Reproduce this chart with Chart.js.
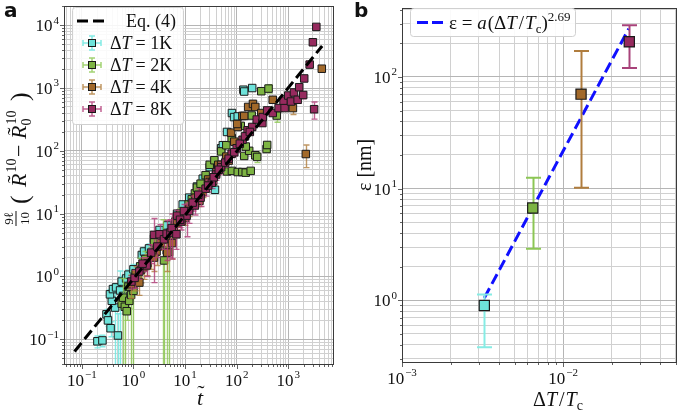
<!DOCTYPE html>
<html>
<head>
<meta charset="utf-8">
<script src="https://cdn.jsdelivr.net/npm/chart.js@4.4.1/dist/chart.umd.min.js"></script>
<style>
  body { margin: 0; background: #fff; width: 685px; height: 411px; position: relative; overflow: hidden; }
  #wrapA { position: absolute; left: 0; top: 0; width: 340px; height: 411px; }
  #wrapB { position: absolute; left: 340px; top: 0; width: 345px; height: 411px; }
</style>
</head>
<body>
<div id="wrapA"><canvas id="chartA"></canvas></div>
<div id="wrapB"><canvas id="chartB"></canvas></div>
<script>
const SERIF = '"Liberation Serif", "DejaVu Serif", serif';
const SANS = '"DejaVu Sans", "Liberation Sans", sans-serif';

// ---- panel a : rescaled radius vs rescaled time, one set per quench depth ----
const t1K = [0.20, 0.25, 0.30, 0.32, 0.36, 0.50, 0.44, 0.38, 0.35, 0.40, 0.46, 0.55, 0.63, 0.59, 0.72, 0.80, 1.0, 1.45, 1.6, 2.0, 2.5, 3.2, 4.5, 7.0, 9.0, 12, 17, 22, 30, 38, 50, 54, 65, 81, 89, 105, 135, 140, 200];
const r1K = [0.093, 0.096, 0.25, 0.20, 0.15, 0.115, 0.32, 0.41, 0.52, 0.63, 0.67, 0.60, 0.49, 0.83, 0.93, 1.07, 1.3, 2.2, 2.5, 2.8, 4.0, 5.5, 6.5, 10, 14, 18, 27, 36, 55, 24, 110, 123, 200, 400, 345, 353, 940, 880, 1000];
const e1K = [0.02, 0.02, 0.05, 0.04, 0.04, 0.14, 0.35, 0.08, 0.1, 0.1, 0.1, 0.62, 0.1, 0.15, 0.2, 0.2, 0.25, 0.3, 0.4, 0.5, 0.5, 0.6, 0.8, 1.2, 1.5, 2, 3, 4, 6, 3, 10, 10, 15, 30, 25, 30, 60, 50, 60];

const t2K = [0.59, 0.63, 0.68, 0.74, 0.83, 0.90, 1.0, 0.80, 1.2, 1.35, 1.7, 2.5, 2.7, 3.7, 3.9, 4.4, 4.9, 5.2, 6.5, 8, 11.7, 13.5, 15.5, 17, 20, 25, 30, 37, 50, 63, 80, 65, 81, 105, 129, 150, 187, 140, 175, 150, 230, 250, 380, 390, 195, 120, 300, 415, 600];
const r2K = [0.37, 0.46, 0.33, 0.28, 0.41, 0.51, 0.59, 0.69, 1.0, 1.45, 1.9, 3.5, 2.5, 3.9, 1.8, 2.6, 2.45, 4.5, 7.5, 10, 14, 17, 21, 26, 30, 41, 60, 71, 98, 123, 160, 47, 48, 46, 46, 45, 48, 83, 100, 117, 85, 80, 107, 124, 365, 250, 890, 980, 365];
const e2K = [0.06, 0.47, 0.34, 0.08, 0.1, 0.53, 0.61, 0.1, 0.3, 0.5, 0.6, 0.6, 0.4, 4.1, 1.9, 2.7, 2.6, 1, 1.5, 2, 2, 2, 3, 3, 4, 5, 6, 5, 8, 10, 12, 4, 4, 4, 4, 4, 4, 6, 8, 10, 8, 15, 12, 12, 30, 20, 60, 150, 80];

const t4K = [0.9, 1.07, 1.1, 1.3, 1.41, 1.86, 2.2, 2.8, 3.4, 4.2, 4.5, 5.6, 7, 9, 12, 16, 22, 28, 30, 40, 44, 50, 63, 78, 90, 105, 102, 129, 140, 167, 207, 230, 300, 500, 1230, 2190, 4470, 1.6, 2.5, 6, 10, 19, 35, 70];
const r4K = [0.75, 0.89, 1.13, 0.80, 1.29, 1.63, 2.1, 2.5, 3.4, 4.0, 2.4, 3.4, 7, 9, 12, 18, 22, 35, 32, 45, 60, 60, 81, 195, 140, 240, 268, 360, 360, 500, 560, 500, 400, 650, 480, 89, 2030, 1.4, 2.0, 5.5, 8.5, 16, 33, 70];
const e4K = [0.3, 0.3, 0.3, 0.3, 0.5, 0.6, 0.8, 1.0, 0.8, 1.0, 1.2, 1.5, 1.5, 2, 3, 3, 4, 5, 5, 6, 6, 6, 8, 15, 10, 20, 20, 25, 25, 30, 40, 40, 30, 50, 100, 35, 150, 0.5, 0.8, 1.5, 2, 3, 5, 8];

const t8K = [0.91, 1.05, 1.8, 2.5, 3.2, 3.9, 4.4, 5.2, 5.5, 6.8, 7, 8.5, 10.7, 12, 15.5, 20, 25, 33, 40, 50, 60, 80, 100, 130, 163, 200, 245, 315, 320, 390, 500, 650, 850, 810, 1000, 1130, 1290, 1520, 1630, 1950, 2040, 2600, 3000, 3500, 3170, 1.3, 1.5, 2.2, 2.9, 8, 9.5, 14, 18, 28, 36, 45, 70, 90, 115, 145, 180];
const r8K = [0.83, 0.95, 1.5, 4.6, 4.7, 3.9, 4.8, 5.0, 5.9, 4.7, 9.3, 7.5, 9.3, 11, 13.5, 18, 25, 31, 42, 55, 65, 90, 110, 150, 213, 240, 315, 277, 345, 440, 400, 480, 480, 630, 760, 610, 850, 650, 1030, 775, 1420, 2360, 5350, 9400, 460, 1.2, 1.6, 2.4, 3.0, 8, 11, 15, 20, 28, 38, 50, 75, 95, 130, 170, 200];
const e8K = [0.2, 0.3, 0.5, 3.8, 2.0, 1.2, 3, 3, 4, 2, 2, 2, 5, 4, 4, 5, 6, 6, 8, 10, 10, 12, 15, 18, 20, 25, 25, 30, 30, 35, 40, 40, 40, 50, 60, 60, 70, 80, 90, 100, 120, 200, 300, 400, 140, 0.3, 0.4, 0.8, 1.0, 2, 3, 4, 5, 6, 7, 8, 10, 12, 15, 18, 20];

// Eq. (4) reference line, two end points
const eqT = [0.072, 4540];
const eqR = [0.064, 4670];

// ---- panel b : fitted epsilon vs quench depth ----
const dTc = [0.00324, 0.00647, 0.0129, 0.0257];
const eps = [0.9, 6.7, 70, 206];
const epsLo = [0.38, 2.9, 10.2, 120];
const epsHi = [1.13, 12.5, 170, 290];
const fitX = [0.00324, 0.0255];
const fitY = [1.05, 270];

const series = [
  { name: '1K', t: t1K, r: r1K, e: e1K, fill: '#6ee3da', bar: 'rgba(110,232,225,0.85)' },
  { name: '2K', t: t2K, r: r2K, e: e2K, fill: '#7db443', bar: 'rgba(140,200,80,0.8)' },
  { name: '4K', t: t4K, r: r4K, e: e4K, fill: '#a2692a', bar: 'rgba(176,125,60,0.8)' },
  { name: '8K', t: t8K, r: r8K, e: e8K, fill: '#962a5e', bar: 'rgba(178,60,120,0.8)' }
];

function logTicks(min, max) {
  let ticks = [];
  for (let e = Math.floor(Math.log10(min)); e <= Math.ceil(Math.log10(max)); e++) {
    for (let m = 1; m <= 9; m++) {
      let v = m * Math.pow(10, e);
      if (v >= min * 0.9999 && v <= max * 1.0001) ticks.push({ value: v, major: m === 1 });
    }
  }
  return ticks;
}

function logAxis(min, max, size, isX) {
  return {
    type: 'logarithmic', min: min, max: max,
    afterBuildTicks: s => { s.ticks = logTicks(min, max); },
    afterFit: s => { if (isX) s.height = size; else s.width = size; },
    ticks: { display: false },
    grid: {
      color: c => (c.tick && c.tick.major) ? '#b5b5b5' : '#d0d0d0',
      lineWidth: 1, drawTicks: false
    },
    border: { display: false }
  };
}

// draws "10" with a raised exponent
function pow10(ctx, exp, x, y, align, base, sup) {
  const e = exp < 0 ? '\u2212' + (-exp) : String(exp);
  ctx.font = base + 'px ' + SERIF;
  const w1 = ctx.measureText('10').width;
  ctx.font = sup + 'px ' + SERIF;
  const w2 = ctx.measureText(e).width;
  const w = w1 + w2 + 1;
  const x0 = align === 'center' ? x - w / 2 : x - w;
  ctx.textAlign = 'left';
  ctx.font = base + 'px ' + SERIF;
  ctx.fillText('10', x0, y);
  ctx.font = sup + 'px ' + SERIF;
  ctx.fillText(e, x0 + w1 + 1, y - base * 0.45);
}

// runs of [text, font, dy, extra gap] drawn one after another
function runs(ctx, list, x, y) {
  let cx = x;
  list.forEach(r => {
    ctx.font = r[1];
    ctx.fillText(r[0], cx, y + (r[2] || 0));
    cx += ctx.measureText(r[0]).width + (r[3] || 0);
  });
  return cx - x;
}
function runsWidth(ctx, list) {
  let w = 0;
  list.forEach(r => { ctx.font = r[1]; w += ctx.measureText(r[0]).width + (r[3] || 0); });
  return w;
}

function drawFrame(chart, majorX, majorY, base, sup) {
  const { ctx, chartArea: a, scales } = chart;
  ctx.save();
  ctx.strokeStyle = '#3a3a3a';
  ctx.lineWidth = 0.8;
  ctx.beginPath();
  scales.x.ticks.forEach(t => {
    const p = Math.round(scales.x.getPixelForValue(t.value)) + 0.5;
    ctx.moveTo(p, a.bottom); ctx.lineTo(p, a.bottom + (t.major ? 4 : 2));
  });
  scales.y.ticks.forEach(t => {
    const p = Math.round(scales.y.getPixelForValue(t.value)) + 0.5;
    ctx.moveTo(a.left, p); ctx.lineTo(a.left - (t.major ? 4 : 2), p);
  });
  ctx.stroke();
  ctx.lineWidth = 1;
  ctx.strokeRect(Math.round(a.left) + 0.5, Math.round(a.top) + 0.5,
    Math.round(a.right - a.left) - 1, Math.round(a.bottom - a.top) - 1);
  ctx.fillStyle = '#111';
  majorX.forEach(e => pow10(ctx, e, scales.x.getPixelForValue(Math.pow(10, e)), a.bottom + 21, 'center', base, sup));
  majorY.forEach(e => pow10(ctx, e, a.left - 5, scales.y.getPixelForValue(Math.pow(10, e)) + 6, 'right', base, sup));
  ctx.restore();
}

const errorBars = {
  id: 'errorBars',
  beforeDatasetDraw(chart, args) {
    const ds = chart.data.datasets[args.index];
    if (!ds.lo) return;
    const { ctx, chartArea: a, scales: { x, y } } = chart;
    ctx.save();
    ctx.beginPath();
    ctx.rect(a.left, a.top, a.right - a.left, a.bottom - a.top);
    ctx.clip();
    ds.data.forEach((p, j) => {
      const px = Math.round(x.getPixelForValue(p.x)) + 0.5;
      const top = y.getPixelForValue(ds.hi[j]);
      const bot = ds.lo[j] > 0 ? y.getPixelForValue(ds.lo[j]) : a.bottom + 10;
      ctx.strokeStyle = Array.isArray(ds.barColor) ? ds.barColor[j] : ds.barColor;
      ctx.lineWidth = ds.barWidth;
      ctx.beginPath();
      ctx.moveTo(px, top); ctx.lineTo(px, bot);
      ctx.moveTo(px - ds.cap, top); ctx.lineTo(px + ds.cap, top);
      ctx.moveTo(px - ds.cap, bot); ctx.lineTo(px + ds.cap, bot);
      ctx.stroke();
    });
    ctx.restore();
  }
};

function tildeOver(ctx, x, w, y, size) {
  ctx.font = size + 'px ' + SERIF;
  ctx.textAlign = 'center';
  ctx.fillText('\u02DC', x + w / 2, y);
  ctx.textAlign = 'left';
}

// ---------------- panel a ----------------
const decorA = {
  id: 'decorA',
  afterDraw(chart) {
    const ctx = chart.ctx;
    drawFrame(chart, [-1, 0, 1, 2, 3], [-1, 0, 1, 2, 3, 4], 17, 11);
    ctx.save();
    ctx.fillStyle = '#111';
    ctx.textBaseline = 'alphabetic';

    // x title: t tilde
    ctx.font = 'italic 22px ' + SERIF;
    const tw = ctx.measureText('t').width;
    ctx.fillText('t', 200 - tw / 2, 405);
    tildeOver(ctx, 200 - tw / 2 + 1, tw, 400, 22);

    // y title, rotated
    ctx.save();
    ctx.translate(26, 0);
    ctx.rotate(-Math.PI / 2);
    const F = 13;
    ctx.font = F + 'px ' + SERIF;
    const nw = ctx.measureText('9\u2113').width, dw = ctx.measureText('10').width;
    const fw = Math.max(nw, dw) + 2, f0 = -226;
    ctx.fillText('9\u2113', f0 + (fw - nw) / 2, -13);
    ctx.fillText('10', f0 + (fw - dw) / 2, 3);
    ctx.fillRect(f0, -10.5, fw, 1);
    ctx.font = '26px ' + SERIF;
    ctx.fillText('(', -204, 2);
    ctx.font = 'italic 22px ' + SERIF;
    const rw = ctx.measureText('R').width;
    ctx.fillText('R', -187, 0);
    tildeOver(ctx, -186, rw, -4, 22);
    ctx.font = '14px ' + SERIF;
    ctx.fillText('10', -187 + rw + 1, -10);
    ctx.font = '22px ' + SERIF;
    ctx.fillText('\u2212', -157, 0);
    ctx.font = 'italic 22px ' + SERIF;
    ctx.fillText('R', -139, 0);
    tildeOver(ctx, -138, rw, -4, 22);
    ctx.font = '14px ' + SERIF;
    ctx.fillText('0', -139 + rw, 5);
    ctx.fillText('10', -139 + rw + 1, -10);
    ctx.font = '26px ' + SERIF;
    ctx.fillText(')', -101, 2);
    ctx.restore();

    // legend
    ctx.fillStyle = 'rgba(255,255,255,0.88)';
    ctx.strokeStyle = '#d0d0d0';
    ctx.lineWidth = 1;
    ctx.beginPath();
    ctx.roundRect(72.5, 7.5, 111, 117, 3);
    ctx.fill(); ctx.stroke();
    ctx.strokeStyle = '#000';
    ctx.lineWidth = 3;
    ctx.setLineDash([11, 5]);
    ctx.beginPath(); ctx.moveTo(77, 21); ctx.lineTo(106, 21); ctx.stroke();
    ctx.setLineDash([]);
    ctx.fillStyle = '#111';
    ctx.font = '18px ' + SERIF;
    ctx.fillText('Eq. (4)', 126, 27);
    series.forEach((s, i) => {
      const cy = 43 + i * 22;
      ctx.strokeStyle = s.bar; ctx.lineWidth = 1.5;
      ctx.beginPath();
      ctx.moveTo(83, cy); ctx.lineTo(101, cy);
      ctx.moveTo(83, cy - 3); ctx.lineTo(83, cy + 3);
      ctx.moveTo(101, cy - 3); ctx.lineTo(101, cy + 3);
      ctx.moveTo(92, cy - 7); ctx.lineTo(92, cy + 7);
      ctx.moveTo(89, cy - 7); ctx.lineTo(95, cy - 7);
      ctx.moveTo(89, cy + 7); ctx.lineTo(95, cy + 7);
      ctx.stroke();
      ctx.fillStyle = s.fill; ctx.strokeStyle = '#1a1a1a'; ctx.lineWidth = 1;
      ctx.fillRect(88.5, cy - 3.5, 7, 7); ctx.strokeRect(88.5, cy - 3.5, 7, 7);
      ctx.fillStyle = '#111';
      runs(ctx, [['\u0394', '18px ' + SERIF], ['T', 'italic 18px ' + SERIF, 0, 4], ['= ' + s.name, '18px ' + SERIF]], 110, cy + 6);
    });

    ctx.font = 'bold 20px ' + SANS;
    ctx.fillText('a', 4, 17);
    ctx.restore();
  }
};

const dsA = series.map((s, i) => ({
  label: '\u0394T = ' + s.name,
  data: s.t.map((t, j) => ({ x: t, y: s.r[j] })),
  lo: s.r.map((r, j) => r - s.e[j]),
  hi: s.r.map((r, j) => r + s.e[j]),
  barColor: s.bar, barWidth: 1.4, cap: 3,
  pointStyle: 'rect', pointRadius: 5.3,
  backgroundColor: s.fill, borderColor: '#1a1a1a', borderWidth: 1,
  order: 4 - i
}));
dsA.push({
  label: 'Eq. (4)',
  data: eqT.map((t, j) => ({ x: t, y: eqR[j] })),
  showLine: true, pointRadius: 0,
  borderColor: '#000', borderWidth: 3, borderDash: [11, 5],
  order: 0
});

new Chart(document.getElementById('chartA'), {
  type: 'scatter',
  data: { datasets: dsA },
  options: {
    responsive: true, maintainAspectRatio: false, animation: false, devicePixelRatio: 1,
    events: [],
    layout: { padding: { left: 0, right: 2, top: 1, bottom: 0 } },
    scales: {
      x: logAxis(0.045, 7600, 46, true),
      y: logAxis(0.039, 20000, 64, false)
    },
    plugins: { legend: { display: false }, tooltip: { enabled: false } }
  },
  plugins: [errorBars, decorA]
});

// ---------------- panel b ----------------
const colorsB = ['#6ee3da', '#7db443', '#a2692a', '#962a5e'];
const barsB = ['#86ece4', '#8cc655', '#b07d3e', '#a8437a'];

const decorB = {
  id: 'decorB',
  afterDraw(chart) {
    const ctx = chart.ctx;
    drawFrame(chart, [-3, -2], [0, 1, 2], 17, 11);
    ctx.save();
    ctx.fillStyle = '#111';
    // x title
    const xt = [['\u0394', '20px ' + SERIF], ['T', 'italic 20px ' + SERIF, 0, 2], ['/', '20px ' + SERIF, 0, 1],
      ['T', 'italic 20px ' + SERIF], ['c', '14px ' + SERIF, 4]];
    runs(ctx, xt, 558 - 340 - runsWidth(ctx, xt) / 2, 406);
    // y title
    ctx.save();
    ctx.translate(31, 0);
    ctx.rotate(-Math.PI / 2);
    ctx.font = '20px ' + SERIF;
    ctx.fillText('\u03B5 [nm]', -191, 0);
    ctx.restore();

    // legend
    ctx.fillStyle = 'rgba(255,255,255,0.88)';
    ctx.strokeStyle = '#d0d0d0';
    ctx.lineWidth = 1;
    ctx.beginPath();
    ctx.roundRect(70.5, 8.5, 165, 28, 3);
    ctx.fill(); ctx.stroke();
    ctx.strokeStyle = '#1010ff';
    ctx.lineWidth = 3;
    ctx.setLineDash([11, 4]);
    ctx.beginPath(); ctx.moveTo(77, 22.5); ctx.lineTo(103, 22.5); ctx.stroke();
    ctx.setLineDash([]);
    ctx.fillStyle = '#111';
    runs(ctx, [
      ['\u03B5 = ', '19px ' + SERIF], ['a', 'italic 19px ' + SERIF, 0, 1], ['(\u0394', '19px ' + SERIF],
      ['T', 'italic 19px ' + SERIF, 0, 2], ['/', '19px ' + SERIF, 0, 1], ['T', 'italic 19px ' + SERIF],
      ['c', '13px ' + SERIF, 4], [')', '19px ' + SERIF], ['2.69', '13px ' + SERIF, -8]
    ], 109, 29);

    ctx.font = 'bold 20px ' + SANS;
    ctx.fillText('b', 14, 17);
    ctx.restore();
  }
};

new Chart(document.getElementById('chartB'), {
  type: 'scatter',
  data: {
    datasets: [
      {
        label: 'eps',
        data: dTc.map((x, j) => ({ x: x, y: eps[j] })),
        lo: epsLo, hi: epsHi,
        barColor: barsB, barWidth: 2, cap: 7.5,
        pointStyle: 'rect', pointRadius: 7.2,
        backgroundColor: colorsB, borderColor: '#1a1a1a', borderWidth: 1.2,
        order: 0
      },
      {
        label: 'fit',
        data: fitX.map((x, j) => ({ x: x, y: fitY[j] })),
        showLine: true, pointRadius: 0,
        borderColor: '#1010ff', borderWidth: 3, borderDash: [11, 5],
        order: 1
      }
    ]
  },
  options: {
    responsive: true, maintainAspectRatio: false, animation: false, devicePixelRatio: 1,
    events: [],
    layout: { padding: { left: 0, right: 1, top: 1, bottom: 0 } },
    scales: {
      x: logAxis(0.001, 0.0505, 48, true),
      y: logAxis(0.275, 410, 62, false)
    },
    plugins: { legend: { display: false }, tooltip: { enabled: false } }
  },
  plugins: [errorBars, decorB]
});
</script>
</body>
</html>
